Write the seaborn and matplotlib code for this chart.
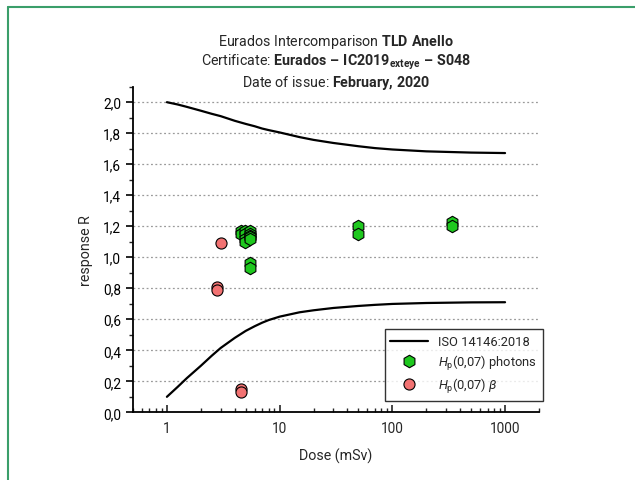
import numpy as np
import pandas as pd
import matplotlib
matplotlib.use("Agg")
import matplotlib.pyplot as plt
from matplotlib.lines import Line2D
from matplotlib.ticker import FuncFormatter, MultipleLocator, LogLocator, NullFormatter
import seaborn as sns

# ISO 14146:2018 trumpet limits
iso_dose = [1, 1.25, 1.5, 2, 2.5, 3, 4, 5, 6, 7, 8, 10, 15, 20, 30, 50, 70, 100, 200, 500, 1000]
iso_upper = [2.0, 1.985, 1.97, 1.945, 1.925, 1.91, 1.88, 1.86, 1.845, 1.83, 1.82, 1.805,
             1.775, 1.757, 1.737, 1.716, 1.704, 1.695, 1.683, 1.675, 1.672]
iso_lower = [0.10, 0.165, 0.22, 0.30, 0.365, 0.415, 0.48, 0.525, 0.555, 0.578, 0.595, 0.617,
             0.645, 0.658, 0.673, 0.686, 0.693, 0.699, 0.705, 0.709, 0.71]

# Hp(0,07) photons
phot_dose = [4.5, 4.5, 4.9, 4.9, 4.9, 4.9, 5.5, 5.5, 5.5, 5.5, 5.5, 5.5, 5.5, 50, 50, 335, 335]
phot_resp = [1.17, 1.15, 1.17, 1.15, 1.12, 1.10, 1.17, 1.15, 1.14, 1.13, 1.12, 0.96, 0.93,
             1.20, 1.15, 1.23, 1.20]

# Hp(0,07) beta
beta_dose = [3.0, 2.8, 2.8, 4.5, 4.5]
beta_resp = [1.09, 0.81, 0.79, 0.15, 0.13]

sns.set_style("ticks")
plt.rcParams['font.family'] = ['Roboto', 'DejaVu Sans']
plt.rcParams['mathtext.fontset'] = 'custom'
plt.rcParams['mathtext.rm'] = 'Roboto'
plt.rcParams['mathtext.it'] = 'Roboto:italic'
plt.rcParams['mathtext.bf'] = 'Roboto:bold'

iso = pd.DataFrame({"dose": iso_dose * 2, "resp": iso_upper + iso_lower,
                    "limit": ["upper"] * len(iso_dose) + ["lower"] * len(iso_dose)})
phot = pd.DataFrame({"dose": phot_dose, "resp": phot_resp})
beta = pd.DataFrame({"dose": beta_dose, "resp": beta_resp})

fig = plt.figure(figsize=(6.35, 4.81), dpi=100)
ax = fig.add_axes([0.2094, 0.1407, 0.6394, 0.6770])

green = "#1ec81e"
red = "#f27272"

sns.lineplot(data=iso, x="dose", y="resp", units="limit", estimator=None,
             color="black", lw=1.6, ax=ax, legend=False, sort=True)
sns.scatterplot(data=phot, x="dose", y="resp", marker="h", s=80, color=green,
                edgecolor="black", linewidth=0.8, ax=ax, legend=False, zorder=3)
sns.scatterplot(data=beta, x="dose", y="resp", marker="o", s=64, color=red,
                edgecolor="black", linewidth=0.8, ax=ax, legend=False, zorder=3)

ax.set_xscale("log")
ax.set_xlim(0.5, 2000)
ax.set_ylim(0, 2.1)
ax.yaxis.set_major_locator(MultipleLocator(0.2))
ax.yaxis.set_minor_locator(MultipleLocator(0.1))
ax.yaxis.set_major_formatter(FuncFormatter(lambda v, p: f"{v:.1f}".replace(".", ",")))
ax.xaxis.set_major_locator(LogLocator(base=10, numticks=10))
ax.xaxis.set_minor_locator(LogLocator(base=10, subs=np.arange(2, 10), numticks=10))
ax.xaxis.set_minor_formatter(NullFormatter())
ax.xaxis.set_major_formatter(FuncFormatter(lambda v, p: f"{v:g}"))

ax.tick_params(axis="y", which="major", direction="out", length=5, width=1.2,
               labelsize=9.8, colors="black")
ax.tick_params(axis="y", which="minor", direction="out", length=3, width=1.0)
ax.tick_params(axis="x", which="major", direction="in", length=5, width=1.2,
               labelsize=9.8, pad=6)
ax.tick_params(axis="x", which="minor", direction="in", length=3, width=1.0)

ax.grid(axis="y", which="major", color="#9a9a9a", ls=(0, (1.5, 2)), lw=0.9)
ax.set_axisbelow(True)
sns.despine(ax=ax)
for s in ["left", "bottom"]:
    ax.spines[s].set_linewidth(1.3)
    ax.spines[s].set_color("black")

ax.set_xlabel("Dose (mSv)", fontsize=10.3, labelpad=9)
ax.set_ylabel("response R", fontsize=10.3, labelpad=7)

handles = [
    Line2D([], [], color="black", lw=1.6, label="ISO 14146:2018"),
    Line2D([], [], ls="none", marker="h", ms=9, mfc=green, mec="black", mew=0.8,
           label=r"$H_{\mathrm{p}}$(0,07) photons"),
    Line2D([], [], ls="none", marker="o", ms=8, mfc=red, mec="black", mew=0.8,
           label=r"$H_{\mathrm{p}}$(0,07) $\beta$"),
]
leg = ax.legend(handles=handles, loc="lower right", bbox_to_anchor=(1.01, 0.035),
                fontsize=9.3, frameon=True, fancybox=False, handlelength=2.9,
                borderpad=0.45, labelspacing=0.35, borderaxespad=0.0)
leg.get_frame().set_edgecolor("black")
leg.get_frame().set_linewidth(1.0)

cx = 0.2094 + 0.6394 / 2
fig.text(cx, 1 - 42 / 481, r"Eurados Intercomparison $\mathbf{TLD\ Anello}$",
         ha="center", va="center", fontsize=10.3)
fig.text(cx, 1 - 62 / 481,
         r"Certificate: $\mathbf{Eurados\ –\ IC2019_{exteye}\ –\ S048}$",
         ha="center", va="center", fontsize=10.3)
fig.text(cx, 1 - 83 / 481, r"Date of issue: $\mathbf{February{,}\ 2020}$",
         ha="center", va="center", fontsize=10.3)

border = "#3a9e6a"
fig.add_artist(Line2D([8 / 635, 1], [1 - 8 / 481, 1 - 8 / 481], color=border, lw=1.5,
                      transform=fig.transFigure))
fig.add_artist(Line2D([8 / 635, 8 / 635], [0, 1 - 8 / 481], color=border, lw=1.5,
                      transform=fig.transFigure))

fig.savefig("out.png", dpi=100)
